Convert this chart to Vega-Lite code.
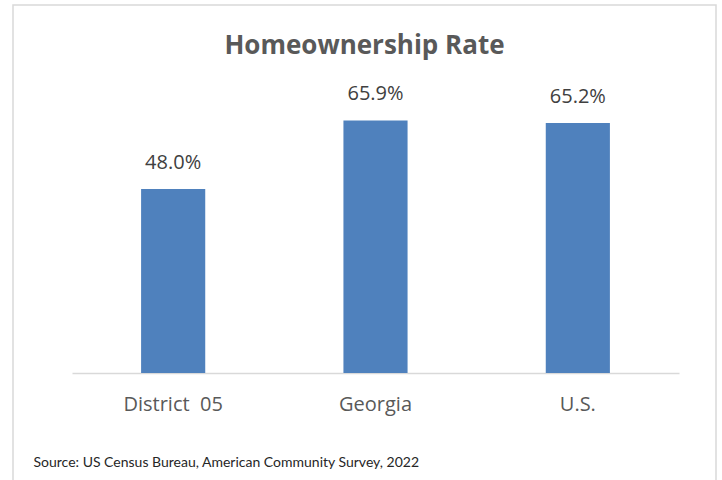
{
  "$schema": "https://vega.github.io/schema/vega-lite/v6.json",
  "autosize": "none",
  "width": 703,
  "height": 476,
  "padding": {"left": 13, "top": 5, "right": 6, "bottom": 0},
  "background": "white",
  "config": {
    "view": {"stroke": "#d9d9d9", "strokeWidth": 1.5},
    "font": "Open Sans"
  },
  "title": {
    "text": "Homeownership Rate",
    "fontSize": 26,
    "fontWeight": "bold",
    "color": "#595959",
    "anchor": "middle",
    "baseline": "middle",
    "offset": 0,
    "dy": 67
  },
  "data": {
    "values": [
      {"area": "District\u00a0\u00a005", "rate": 0.48},
      {"area": "Georgia", "rate": 0.659},
      {"area": "U.S.", "rate": 0.652}
    ]
  },
  "encoding": {
    "x": {
      "field": "area",
      "type": "nominal",
      "sort": null,
      "scale": {"range": [59, 666], "paddingInner": 0.683, "paddingOuter": 0.3415},
      "axis": {
        "orient": "bottom",
        "offset": -108,
        "domainColor": "#d9d9d9",
        "domainWidth": 1.5,
        "ticks": false,
        "labelAngle": 0,
        "labelFontSize": 20,
        "labelColor": "#595959",
        "labelPadding": 21,
        "title": "Source: US Census Bureau, American Community Survey, 2022",
        "titleFont": "Lato",
        "titleFontSize": 14,
        "titleFontWeight": "normal",
        "titleColor": "#262626",
        "titleAlign": "left",
        "titleAnchor": "start",
        "titleBaseline": "middle",
        "titleX": 20,
        "titleY": 89
      }
    },
    "y": {
      "field": "rate",
      "type": "quantitative",
      "scale": {"domain": [0, 0.96], "range": [368, 0]},
      "axis": null
    }
  },
  "layer": [
    {"mark": {"type": "bar", "color": "#4f81bd"}},
    {
      "mark": {"type": "text", "baseline": "alphabetic", "dy": -20, "fontSize": 20, "color": "#404040"},
      "encoding": {"text": {"field": "rate", "type": "quantitative", "format": ".1%"}}
    }
  ]
}
